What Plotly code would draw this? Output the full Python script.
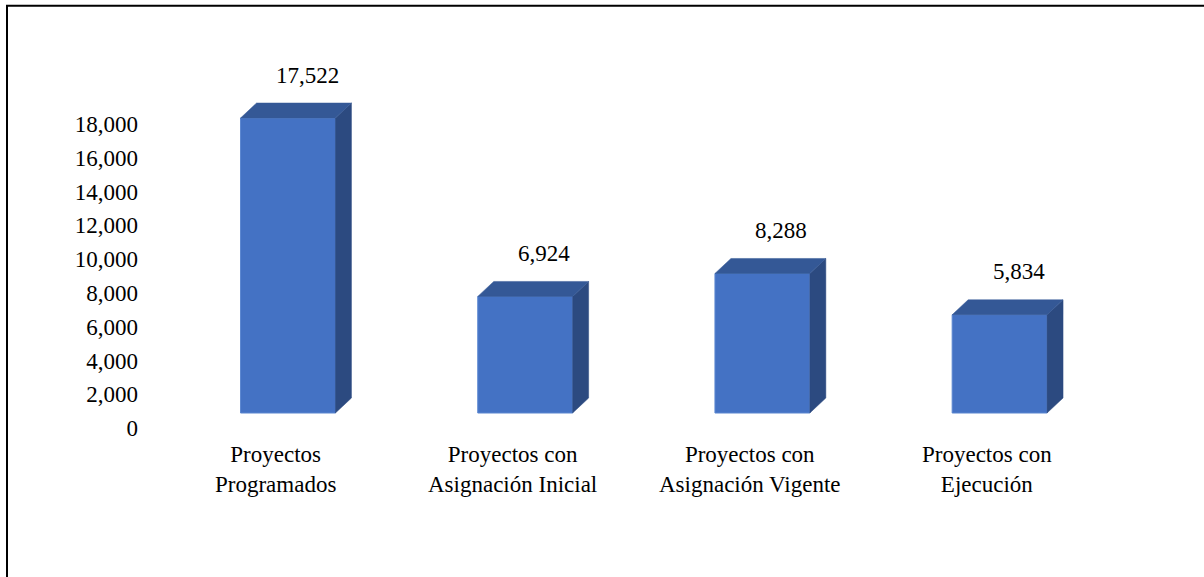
import plotly.graph_objects as go

categories = ["Proyectos<br>Programados", "Proyectos con<br>Asignación Inicial",
              "Proyectos con<br>Asignación Vigente", "Proyectos con<br>Ejecución"]
values = [17522, 6924, 8288, 5834]
tick_vals = [0, 2000, 4000, 6000, 8000, 10000, 12000, 14000, 16000, 18000]
tick_text = [f"{v:,}" for v in tick_vals]

W, H = 1204, 577
ML = 140
PW = W - ML

# pixel scales
px_x = 237.2                 # px per category
px_y_lab = 304 / 18000       # px per unit (tick labels axis)
px_y_bar = 295 / 17522       # px per unit (bars axis)

x0 = -(288 - ML) / px_x
x1 = x0 + PW / px_x
ylab0 = -(H - 428) / px_y_lab
ylab1 = ylab0 + H / px_y_lab
ybar0 = -(H - 413) / px_y_bar
ybar1 = ybar0 + H / px_y_bar

bw = 0.40
ddx = 16 / px_x
ddy = 15 / px_y_bar

FRONT = "#4472C4"
TOP = "#345896"
SIDE = "#2C4A80"
FONT = "Liberation Serif"

fig = go.Figure()
xs = list(range(len(values)))

for i, v in zip(xs, values):
    xr = i + bw / 2
    fig.add_trace(go.Scatter(
        x=[xr, xr, xr + ddx, xr + ddx, xr], y=[0, v, v + ddy, ddy, 0],
        fill="toself", fillcolor=SIDE, mode="lines", line=dict(width=0.5, color=SIDE),
        xaxis="x", yaxis="y2", hoverinfo="skip", showlegend=False))
    xl = i - bw / 2
    fig.add_trace(go.Scatter(
        x=[xl, xl + ddx, xr + ddx, xr, xl], y=[v, v + ddy, v + ddy, v, v],
        fill="toself", fillcolor=TOP, mode="lines", line=dict(width=0.5, color=TOP),
        xaxis="x", yaxis="y2", hoverinfo="skip", showlegend=False))

fig.add_trace(go.Bar(
    x=xs, y=values, width=bw, marker=dict(color=FRONT, line=dict(width=1, color="#5A86D0")),
    xaxis="x", yaxis="y2", showlegend=False, hoverinfo="skip"))

for i, v in zip(xs, values):
    fig.add_annotation(x=i + ddx, y=v + ddy, xref="x", yref="y2", text=f"{v:,}",
                       showarrow=False, xshift=3, yshift=28,
                       font=dict(family=FONT, size=23, color="black"))

for i, c in zip(xs, categories):
    fig.add_annotation(x=i, y=0, xref="x", yref="y2", text=c, showarrow=False,
                       xshift=-12.5, yshift=-56, align="center",
                       font=dict(family=FONT, size=23, color="black"))

fig.add_trace(go.Scatter(x=[None], y=[None], xaxis="x", yaxis="y", showlegend=False))

fig.update_layout(
    width=W, height=H, autosize=False,
    margin=dict(l=ML, r=0, t=0, b=0),
    paper_bgcolor="white", plot_bgcolor="white",
    hovermode=False,
    xaxis=dict(range=[x0, x1], showgrid=False, zeroline=False, showticklabels=False,
               showline=False, fixedrange=True),
    yaxis=dict(range=[ylab0, ylab1], tickvals=tick_vals, ticktext=tick_text,
               showgrid=False, zeroline=False, showline=False, ticks="",
               tickfont=dict(family=FONT, size=23, color="black"), ticklabelstandoff=1),
    yaxis2=dict(range=[ybar0, ybar1], overlaying="y", showgrid=False, zeroline=False,
                showticklabels=False, showline=False),
    shapes=[dict(type="rect", xref="paper", yref="paper",
                 x0=(7 - ML) / PW, x1=1.05, y0=-0.1, y1=1 - 5.8 / H,
                 line=dict(color="black", width=2), layer="above")],
)

fig.write_html("out.html", config={"displayModeBar": False},
               post_script="document.body.style.margin='0';document.body.style.overflow='hidden';")
